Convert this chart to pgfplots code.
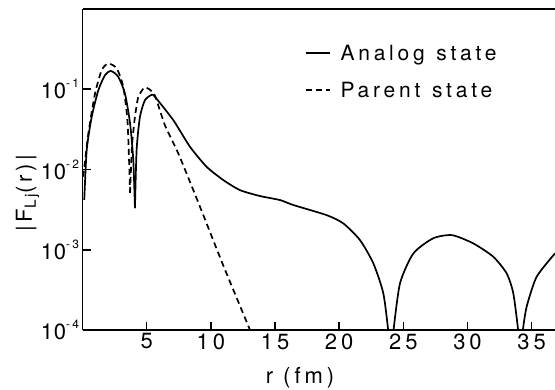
\documentclass[border=0pt]{standalone}
\usepackage{pgfplots}
\pgfplotsset{compat=1.18}
\usepackage{fontspec}
\setmainfont{TeX Gyre Heros}[LetterSpace=18]
\newcommand{\dec}[1]{1\kern1pt0\raisebox{0.5em}{\fontsize{12}{12}\selectfont #1}}
\begin{document}
\begin{tikzpicture}
\path[use as bounding box] (-82.6pt,-59pt) rectangle (472.4pt,330pt);
\begin{axis}[
  at={(0pt,0pt)}, anchor=south west,
  scale only axis, width=472.4pt, height=321pt,
  ymode=log, xmin=0, xmax=36.82, ymin=1e-4, ymax=1,
  axis x line=box, axis y line=left,
  x axis line style={-}, y axis line style={-},
  axis line style={line width=1.5pt},
  xtick pos=bottom, ytick pos=left,
  xtick={5,10,15,20,25,30,35},
  ytick={1e-4,1e-3,1e-2,1e-1},
  yticklabels={\dec{-4},\dec{-3},\dec{-2},\dec{-1}},
  yminorticks=false, xminorticks=false,
  tick align=inside, major tick length=8pt,
  every tick/.style={line width=1.5pt, black},
  /pgf/number format/assume math mode=true,
  tick label style={font=\fontsize{22}{24}\selectfont},
  clip=true,
  legend style={draw=none, fill=none, at={(0.470,0.895)}, anchor=north west,
     font=\fontsize{21}{24}\selectfont, row sep=16pt, inner sep=0pt,
     column sep=4pt},
  legend cell align=left,
  legend image code/.code={\draw[#1] (0pt,0pt) -- (24pt,0pt);},
]
\addplot[black, line width=1.7pt, smooth, tension=0.4] coordinates {
(0.13,4.17e-3) (0.32,1.746e-2) (0.71,4.53e-2) (1.23,9.75e-2) (1.75,0.150) (2.21,0.169)
(2.78,0.143) (3.3,8.85e-2) (3.7,3.75e-2) (3.95,1.31e-2) (4.08,3.3e-3)
};
\addlegendentry{\hspace{4pt}Analog\hspace{2pt} state}
\addplot[black, line width=1.7pt, dash pattern=on 6pt off 4pt, smooth, tension=0.4] coordinates {
(0.05,8.13e-3) (0.45,2.82e-2) (0.97,8.85e-2) (1.49,0.173) (2.0,0.2094) (2.66,0.1816)
(3.17,0.1072) (3.51,3.75e-2) (3.7,5.13e-3)
};
\addlegendentry{\hspace{4pt}Parent\hspace{2pt} state}
\addplot[black, line width=1.7pt, smooth, tension=0.4, forget plot] coordinates {
(4.08,3.3e-3) (4.21,1.75e-2) (4.47,4.53e-2) (4.86,7.31e-2) (5.38,8.51e-2) (5.64,8.04e-2)
(7.07,4.12e-2) (8.37,1.92e-2) (9.67,1.08e-2) (10.97,7.38e-3) (12.27,5.53e-3)
(13.83,4.67e-3) (15.39,4.16e-3) (16.42,3.61e-3) (19.02,2.70e-3) (20.32,2.13e-3)
(21.62,1.32e-3) (22.66,6.78e-4) (23.44,2.86e-4) (23.83,9.5e-5) (23.9,6e-5)
};
\addplot[black, line width=1.7pt, smooth, tension=0.4, forget plot] coordinates {
(24.15,6e-5) (24.22,9.5e-5) (24.74,3.82e-4) (25.78,9.0e-4) (27.33,1.39e-3) (28.8,1.52e-3)
(30.45,1.20e-3) (32.01,8.18e-4) (33.05,5.08e-4) (33.57,2.86e-4) (33.96,9.5e-5) (34.0,6e-5)
};
\addplot[black, line width=1.7pt, smooth, tension=0.4, forget plot] coordinates {
(34.25,6e-5) (34.3,9.5e-5) (34.61,1.95e-4) (35.39,4.61e-4) (36.82,9.0e-4)
};
\addplot[black, line width=1.7pt, dash pattern=on 6pt off 4pt, smooth, tension=0.3, forget plot] coordinates {
(3.7,5.13e-3) (3.85,1.995e-2) (4.08,4.53e-2) (4.34,8.04e-2) (4.81,0.1052) (5.2,0.1)
(5.64,8.32e-2) (6.42,3.55e-2) (7.46,1.585e-2) (8.89,4.365e-3) (11.0,6.17e-4) (13.1,9.55e-5) (13.2,8.5e-5)
};
\end{axis}
\node[rotate=90, font=\fontsize{22}{24}\selectfont] at (-55pt,137pt) {|\,F\textsubscript{L\,j}(r)\,|};
\node[font=\fontsize{22}{24}\selectfont] at (217.4pt,-48pt) {r (fm)};
\end{tikzpicture}
\end{document}
